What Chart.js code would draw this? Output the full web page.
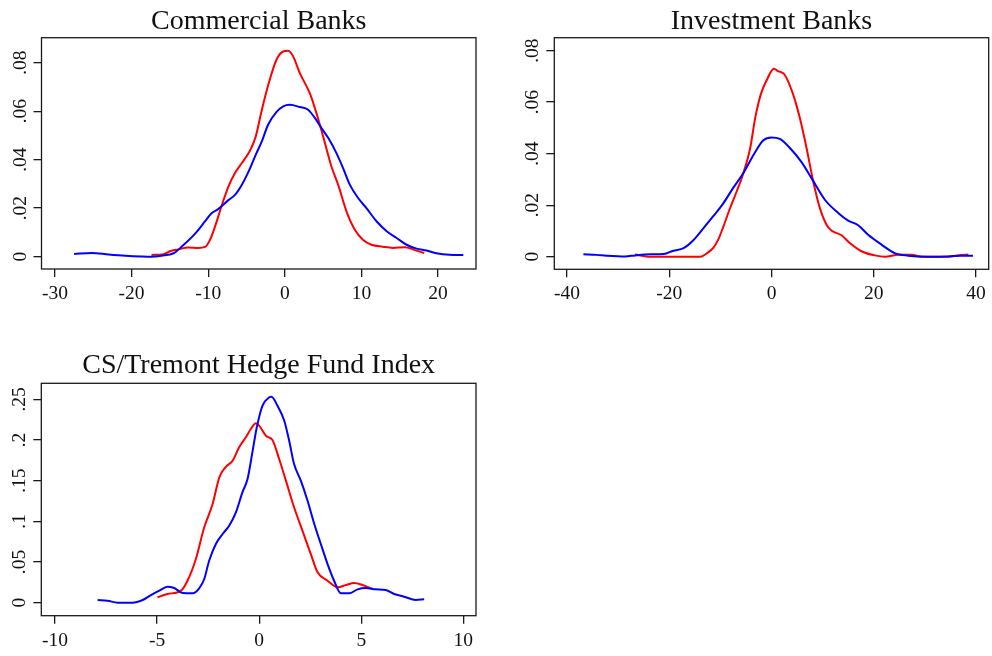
<!DOCTYPE html>
<html><head><meta charset="utf-8">
<script src="https://cdn.jsdelivr.net/npm/chart.js@4/dist/chart.umd.min.js"></script>
<style>
html,body{margin:0;padding:0;background:#fff;}
#wrap{position:relative;width:992px;height:656px;background:#fff;}
canvas{position:absolute;left:0;top:0;}
</style></head><body>
<div id="wrap">
<canvas id="c1" width="992" height="656"></canvas>
<canvas id="c2" width="992" height="656"></canvas>
<canvas id="c3" width="992" height="656"></canvas>
</div>
<script>
// ---- Titles and tick labels ----
const titles = ['Commercial Banks', 'Investment Banks', 'CS/Tremont Hedge Fund Index'];
const cbXTicks = [-30, -20, -10, 0, 10, 20];
const cbYTicks = [0, 0.02, 0.04, 0.06, 0.08];
const ibXTicks = [-40, -20, 0, 20, 40];
const ibYTicks = [0, 0.02, 0.04, 0.06, 0.08];
const hfXTicks = [-10, -5, 0, 5, 10];
const hfYTicks = [0, 0.05, 0.1, 0.15, 0.2, 0.25];

// ---- Commercial Banks ----
const cbBlueX = [-27.5,-25.2,-23.0,-20.8,-18.7,-17.4,-16.1,-14.5,-13.4,-11.7,-10.4,-9.6,-8.7,-7.4,-6.5,-5.6,-4.6,-3.8,-3.0,-2.2,-1.1,-0.2,0.65,1.96,3.05,3.92,4.79,5.66,6.74,7.61,8.48,9.57,10.66,11.97,13.3,14.6,15.9,17.2,18.5,19.8,21.5,23.3];
const cbBlueY = [.0011,.0015,.0009,.0004,.0001,0,.0004,.0014,.0043,.0095,.0146,.0178,.0196,.0232,.0255,.0297,.036,.042,.0475,.0543,.0596,.062,.0626,.0617,.0606,.0572,.053,.049,.0427,.0365,.0297,.0242,.02,.0146,.0105,.0077,.0049,.0033,.0025,.0014,.0008,.0007];
const cbRedX = [-17.4,-15.8,-15.0,-13.9,-12.6,-11.3,-10.4,-9.75,-9.1,-8.2,-7.35,-6.5,-5.6,-4.55,-3.8,-3.0,-2.1,-1.1,-0.22,0.44,1.09,1.96,3.26,4.13,5.0,6.09,6.96,8.05,9.14,10.2,11.3,12.8,14.1,15.7,16.8,18.2];
const cbRedY = [.0007,.001,.0022,.003,.0038,.0036,.004,.007,.0125,.0214,.029,.0345,.0386,.0437,.0495,.0605,.0715,.0811,.0846,.0849,.0826,.0757,.0674,.0592,.0496,.0372,.0297,.0187,.0111,.007,.0049,.0041,.0036,.0039,.0029,.0015];

// ---- Investment Banks ----
const ibBlueX = [-36.8,-34.2,-32.3,-28.6,-26.7,-23.7,-21.1,-19.2,-17.2,-15.3,-13.3,-11.4,-9.4,-7.5,-5.5,-3.5,-1.6,0,1.63,3.91,5.87,7.82,10.43,13.04,15.0,16.95,18.9,21.5,24.1,26.7,30.6,34.5,37.2,39.4];
const ibBlueY = [.0009,.0007,.0004,.0001,.0005,.0009,.001,.0023,.0033,.0064,.0111,.0157,.0208,.0267,.0325,.0396,.0452,.0463,.0457,.0415,.0367,.0305,.0221,.017,.014,.0122,.0085,.0047,.0014,.0004,0,.0001,.0004,.0004];
const ibRedX = [-26.7,-23.7,-20.5,-16.6,-13.95,-12.6,-11.4,-10.4,-9.4,-8.1,-6.8,-5.5,-4.17,-3.2,-2.1,-0.95,0.45,1.37,2.5,4.24,5.54,6.85,8.15,9.45,10.76,11.7,13.7,15.3,17.6,20.2,22.2,24.8,27.4,29.4,34.5,37.2,38.5];
const ibRedY = [.0008,0,0,0,0,.0014,.0034,.0067,.0118,.0189,.0254,.0325,.0422,.0538,.063,.0685,.0729,.0719,.0708,.0629,.0538,.0422,.0293,.0189,.0124,.0102,.0083,.0053,.0021,.0005,0,.0007,.0007,0,0,.0007,.0008];

// ---- CS/Tremont Hedge Fund Index ----
const hfBlueX = [-7.91,-7.43,-6.93,-6.2,-5.71,-5.3,-4.89,-4.49,-4.16,-3.75,-3.26,-2.93,-2.69,-2.45,-2.12,-1.79,-1.47,-1.14,-0.82,-0.57,-0.33,-0.12,0.16,0.5,0.6,0.9,1.23,1.47,1.71,2.04,2.37,2.7,3.02,3.35,3.67,4.0,4.41,4.82,5.23,5.71,6.2,6.61,7.1,7.67,8.08];
const hfBlueY = [.0033,.0025,0,0,.0033,.0094,.0148,.0197,.018,.0119,.0115,.018,.0291,.0516,.0721,.0844,.0946,.111,.1357,.152,.185,.215,.242,.2525,.2532,.242,.2237,.199,.1704,.15,.1254,.0967,.0721,.0475,.027,.0115,.0115,.0164,.018,.0164,.0156,.0107,.0074,.0033,.0041];
const hfRedX = [-4.98,-4.49,-3.83,-3.51,-3.1,-2.69,-2.28,-1.95,-1.63,-1.3,-0.98,-0.65,-0.41,-0.16,0.0,0.33,0.65,0.98,1.31,1.71,2.12,2.53,2.86,3.35,3.84,4.25,4.65,5.06,5.55];
const hfRedY = [.0066,.0107,.0148,.027,.0537,.0927,.1213,.1541,.1671,.1745,.191,.2033,.2135,.2205,.2176,.2052,.2,.1766,.15,.1173,.0885,.0598,.0373,.027,.0189,.0217,.0242,.0217,.0168];

const BLUE = '#0000ff', RED = '#ff0000', INK = '#1a1a1a';
const FONT = '"Liberation Serif", "Times New Roman", serif';

function fmtY(v) {
  const n = Number(v.toFixed(4));
  if (n === 0) return '0';
  return String(n).replace(/^0\./, '.').replace(/^-0\./, '-.');
}

const stataPlugin = {
  id: 'stata',
  afterDraw(chart, args, opts) {
    const ctx = chart.ctx, a = chart.chartArea;
    ctx.save();
    ctx.strokeStyle = INK;
    ctx.lineWidth = 1.3;
    ctx.strokeRect(a.left, a.top, a.right - a.left, a.bottom - a.top);
    const ys = chart.scales.y;
    ctx.fillStyle = '#111';
    ctx.font = '19.5px ' + FONT;
    ctx.textAlign = 'center';
    ctx.textBaseline = 'alphabetic';
    ys.ticks.forEach(t => {
      const py = ys.getPixelForValue(t.value);
      ctx.save();
      ctx.translate(a.left - 16, py);
      ctx.rotate(-Math.PI / 2);
      ctx.fillText(fmtY(t.value), 0, 0);
      ctx.restore();
    });
    ctx.font = '28px ' + FONT;
    ctx.fillText(opts.text, (a.left + a.right) / 2, a.top - opts.gap);
    ctx.restore();
  }
};

function pairs(xs, ys) { return xs.map((x, i) => ({ x: x, y: ys[i] })); }

function makeChart(id, box, xr, yr, xt, yt, series, title, gap) {
  return new Chart(document.getElementById(id), {
    type: 'line',
    data: {
      datasets: series.map(s => ({
        data: pairs(s.x, s.y),
        borderColor: s.color,
        borderWidth: 2,
        pointRadius: 0,
        fill: false,
        cubicInterpolationMode: 'monotone'
      }))
    },
    options: {
      responsive: false,
      animation: false,
      devicePixelRatio: 1,
      layout: { padding: { left: box.padL, top: box.t, right: 992 - box.r, bottom: 0 } },
      plugins: {
        legend: { display: false },
        tooltip: { enabled: false },
        title: { display: false },
        stata: { text: title, gap: gap }
      },
      scales: {
        x: {
          type: 'linear', min: xr[0], max: xr[1],
          afterBuildTicks: s => { s.ticks = xt.map(v => ({ value: v })); },
          afterFit: s => { s.height = 656 - box.b; },
          grid: { drawOnChartArea: false, drawTicks: true, tickLength: 8, color: INK, lineWidth: 1.3 },
          border: { display: false },
          ticks: { font: { family: FONT, size: 19.5 }, color: '#111', padding: 5, maxRotation: 0, autoSkip: false, callback: v => String(v) }
        },
        y: {
          type: 'linear', min: yr[0], max: yr[1],
          afterBuildTicks: s => { s.ticks = yt.map(v => ({ value: v })); },
          afterFit: s => { s.width = box.l - box.padL; },
          grid: { drawOnChartArea: false, drawTicks: true, tickLength: 8, color: INK, lineWidth: 1.3 },
          border: { display: false },
          ticks: { display: false }
        }
      }
    },
    plugins: [stataPlugin]
  });
}

makeChart('c1', { padL: 0, l: 41.5, t: 37.7, r: 476, b: 269 },
  [-31.76, 24.96], [-0.0051, 0.0903], cbXTicks, cbYTicks,
  [{ x: cbBlueX, y: cbBlueY, color: BLUE }, { x: cbRedX, y: cbRedY, color: RED }],
  titles[0], 8.4);

makeChart('c2', { padL: 496, l: 554.3, t: 37.7, r: 988.7, b: 269.3 },
  [-42.49, 42.48], [-0.0049, 0.085], ibXTicks, ibYTicks,
  [{ x: ibBlueX, y: ibBlueY, color: BLUE }, { x: ibRedX, y: ibRedY, color: RED }],
  titles[1], 8.4);

makeChart('c3', { padL: 0, l: 41.3, t: 383.3, r: 476, b: 615.7 },
  [-10.67, 10.62], [-0.016, 0.2697], hfXTicks, hfYTicks,
  [{ x: hfBlueX, y: hfBlueY, color: BLUE }, { x: hfRedX, y: hfRedY, color: RED }],
  titles[2], 10);
</script>
</body></html>
